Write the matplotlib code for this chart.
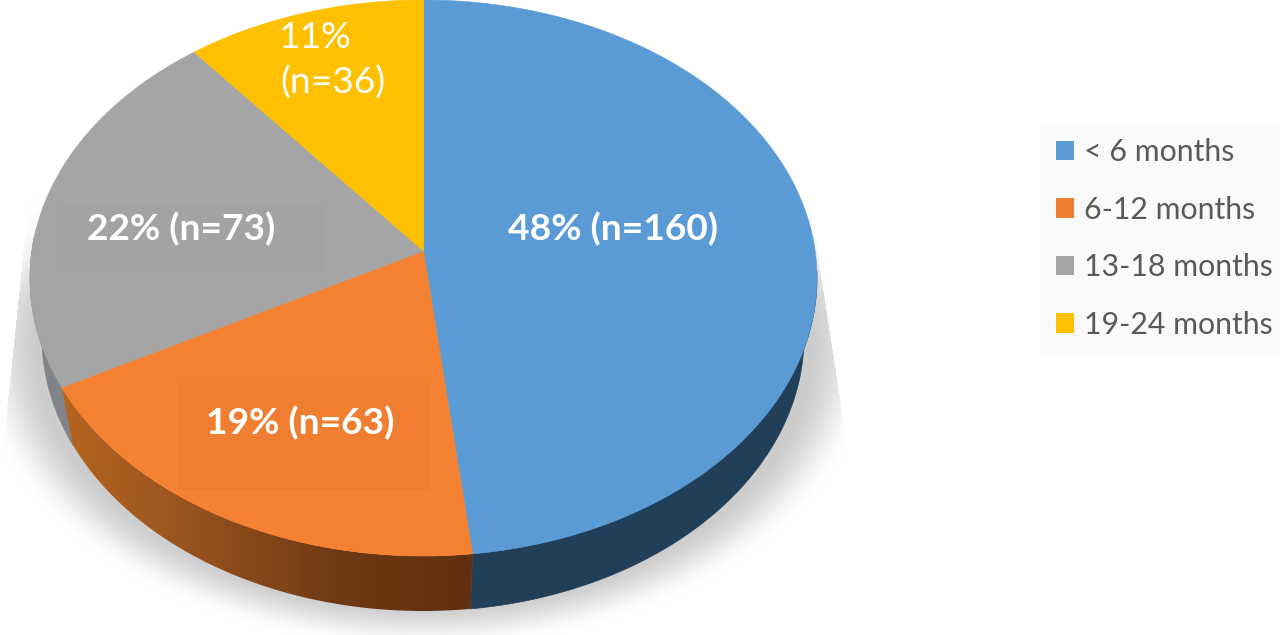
import numpy as np
import matplotlib
matplotlib.use("Agg")
import matplotlib.pyplot as plt
from matplotlib.patches import Patch, Polygon, Rectangle
from matplotlib.colors import LinearSegmentedColormap

categories = ["< 6 months", "6-12 months", "13-18 months", "19-24 months"]
counts = [160, 63, 73, 36]
percents = [48, 19, 22, 11]
colors = ["#5B9BD5", "#F58232", "#A5A5A5", "#FFC000"]

W, H = 1280, 635
fig = plt.figure(figsize=(W / 100, H / 100), dpi=100)
ax = fig.add_axes([0, 0, 1, 1])
ax.set_xlim(0, W)
ax.set_ylim(H, 0)
ax.axis("off")

# Perspective geometry of the tilted pie
CX, CY, RX, RY = 423.5, 278.0, 393.5, 278.0
APEX = 0.097
LCX, LCY, LRX, LRY = 423.0, 337.0, 381.0, 274.0


def project(theta):
    u, v = np.sin(theta), np.cos(theta)
    d = 1 + APEX * v
    return u * np.sqrt(1 - APEX ** 2) / d, (v + APEX) / d


def top(theta):
    u, v = project(theta)
    return CX + RX * u, CY - RY * v


def low(theta):
    u, v = project(theta)
    return LCX + LRX * u, LCY - LRY * v


edges = 2 * np.pi * np.cumsum([0] + counts) / sum(counts)

# Shadow
yy, xx = np.mgrid[0:H, 0:W] + 0.5
d = np.sqrt(((xx - 424) / 430) ** 2 + ((yy - 345) / 290) ** 2)
s = np.clip((1.05 - d) / 0.16, 0, 1)
s = s * s * (3 - 2 * s)
f = np.clip((yy - 190) / 110, 0, 1)
right = 818 + (yy - 255) * 27 / 175
left = 30 - (yy - 190) * 25 / 240
s = s * f * (xx < right) * (xx > left)
rgba = np.zeros((H, W, 4))
rgba[..., :3] = 0.80
rgba[..., 3] = s
ax.imshow(rgba, extent=(0, W, H, 0), aspect="auto", zorder=1, interpolation="bilinear")

# Side walls
wall_spans = [(np.pi / 2 + 0.07, edges[1], "#223F59"), (edges[2], np.pi * 1.5 + 0.05, "#808387")]
for a0, a1, col in wall_spans:
    t = np.linspace(a0, a1, 120)
    lx, ly = low(t)
    tx, ty = top(t)
    ax.add_patch(Polygon(np.c_[np.r_[lx, tx[::-1]], np.r_[ly, ty[::-1]]], fc=col, ec=col, lw=0.5, zorder=2))

t = np.linspace(edges[1], edges[2], 160)
lx, ly = low(t)
tx, ty = top(t)
orange_wall = Polygon(np.c_[np.r_[lx, tx[::-1]], np.r_[ly, ty[::-1]]], fc="none", ec="none", zorder=2,
                      transform=ax.transData)
ax.add_patch(orange_wall)
cmap = LinearSegmentedColormap.from_list("w", ["#B5651F", "#96521E", "#703A14", "#5F2F0F"])
im = ax.imshow(np.linspace(0, 1, 256)[None, :], extent=(60, 473, H, 0), cmap=cmap, aspect="auto", zorder=2.1)
im.set_clip_path(orange_wall)

# Top faces
for i, col in enumerate(colors):
    t = np.linspace(edges[i], edges[i + 1], 240)
    x, y = top(t)
    ax.fill(np.r_[CX, x], np.r_[CY - RY * APEX, y], fc=col, ec=col, lw=0.4, zorder=3)

# Faint boxes behind the labels
ax.add_patch(Rectangle((177, 383), 253, 107, fc="#F07E31", ec="none", zorder=3.1))
ax.add_patch(Rectangle((58, 205), 265, 67, fc="#A3A3A3", ec="none", zorder=3.1))

# Labels
font = "Lato"
kw = dict(color="white", ha="center", va="center", family=font, zorder=5, fontsize=26.7)
ax.text(612.5, 229, f"{percents[0]}% (n={counts[0]})", fontweight="bold", **kw)
ax.text(300, 423, f"{percents[1]}% (n={counts[1]})", fontweight="bold", **kw)
ax.text(181, 229, f"{percents[2]}% (n={counts[2]})", fontweight="bold", **kw)
ax.text(315, 37, f"{percents[3]}%", **kw)
ax.text(333, 83, f"(n={counts[3]})", **kw)

# Legend
ax.add_patch(Rectangle((1040, 125), 240, 229, fc="#FAFAFA", ec="none", zorder=1.5))
handles = [Patch(fc=c, ec="none") for c in ["#5B9BD5", "#ED7D31", "#A5A5A5", "#FFC000"]]
leg = ax.legend(handles, categories, loc="upper left", bbox_to_anchor=(1047 / W, 1 - 129 / H),
                bbox_transform=fig.transFigure, frameon=False, labelcolor="#595959",
                prop={"family": font, "size": 21.8}, handlelength=0.6, handleheight=0.6,
                handletextpad=0.33, labelspacing=0.975, borderpad=0.3, borderaxespad=0)
leg.set_zorder(6)

fig.savefig("out.png", dpi=100)
